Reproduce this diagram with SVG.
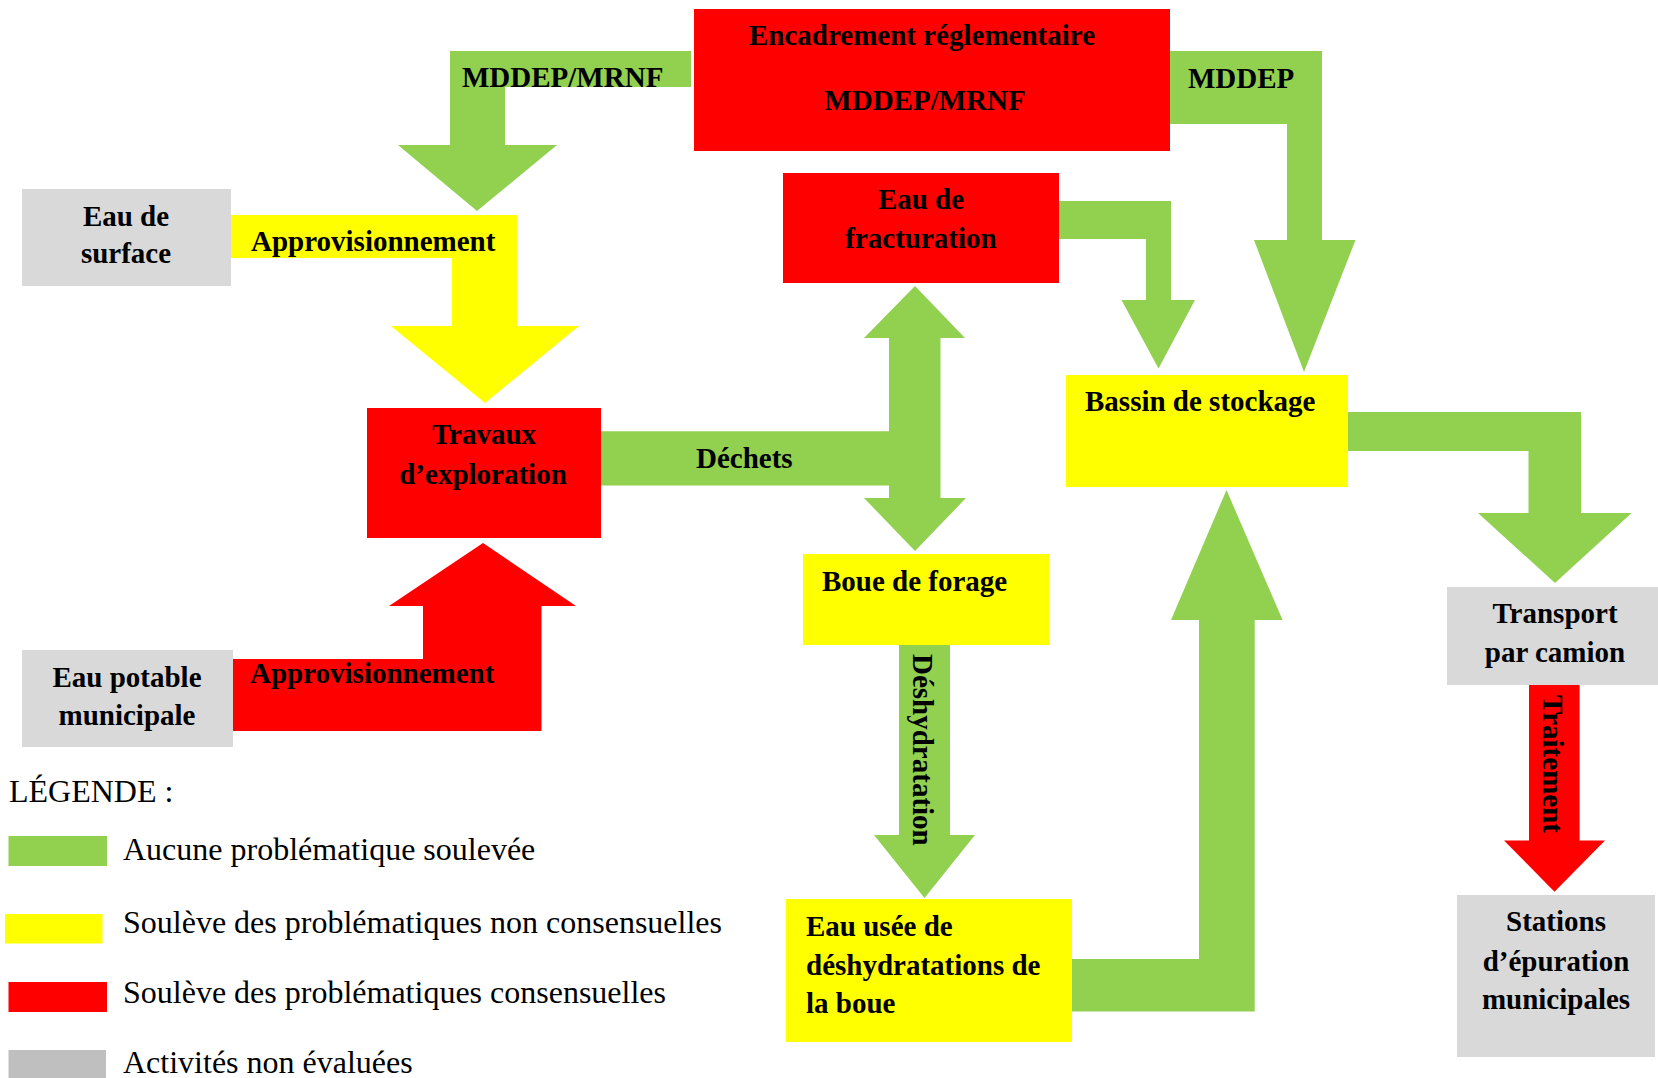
<svg xmlns="http://www.w3.org/2000/svg" width="1658" height="1078" viewBox="0 0 1658 1078">
<style>
.g{fill:#92D050}
.y{fill:#FFFF00}
.r{fill:#FF0000}
.k{fill:#D9D9D9}
.t{font-family:"Liberation Serif","Times New Roman",serif;font-weight:bold;font-size:29px;fill:#000}
.c{text-anchor:middle}
.l{font-family:"Liberation Serif","Times New Roman",serif;font-size:32px;fill:#000}
</style>
<rect width="1658" height="1078" fill="#fff"/>
<g id="connectors">
<path class="g" d="M691,51 H450 V145 H398 L477,211 L557,145 H505 V87 H691 Z"/>
<path class="g" d="M1168,51 H1322 V240 H1355.5 L1304,372 L1254,240 H1287 V124 H1168 Z"/>
<path class="g" d="M1058,201 H1171 V300 H1195 L1158.5,368.5 L1121.5,300 H1146 V239 H1058 Z"/>
<path class="y" d="M231,215 H517 V326 H579 L485,403 L391,326 H452 V258 H231 Z"/>
<path class="r" d="M231,659 H423 V606 H389 L483,543 L576,606 H541.5 V731 H231 Z"/>
<path class="g" d="M915,286 L965,338 H940.5 V498 H966 L915,551 L864,498 H889 V485.4 H601 V431.3 H889 V338 H864 Z"/>
<path class="g" d="M1348,412 H1581 V513 H1631.6 L1555,583 L1478,513 H1528.5 V451 H1348 Z"/>
<path class="g" d="M1072,959 H1199 V620 H1171 L1226.5,490 L1282.6,620 H1254.7 V1011.5 H1072 Z"/>
<path class="g" d="M899,645 H950 V835 H975 L924.5,898 L874,835 H899 Z"/>
<path class="r" d="M1529,684.7 H1579.6 V840.5 H1605 L1554.5,891.7 L1504,840.5 H1529 Z"/>
<text class="t" x="462" y="87">MDDEP/MRNF</text>
<text class="t" x="1188" y="88">MDDEP</text>
<text class="t" x="251" y="251">Approvisionnement</text>
<text class="t" x="250" y="683">Approvisionnement</text>
<text class="t" x="696" y="468">Déchets</text>
<text class="t" transform="translate(913,654) rotate(90)">Déshydratation</text>
<text class="t" transform="translate(1543,695) rotate(90)">Traitement</text>
</g>
<g id="encadrement">
<rect class="r" x="694" y="9" width="476" height="142"/>
<text class="t c" x="922" y="45">Encadrement réglementaire</text>
<text class="t c" x="925" y="110">MDDEP/MRNF</text>
</g>
<g id="eau-surface">
<rect class="k" x="22" y="189" width="209" height="97"/>
<text class="t c" x="126" y="226">Eau de</text>
<text class="t c" x="126" y="263">surface</text>
</g>
<g id="fracturation">
<rect class="r" x="783" y="173" width="276" height="110"/>
<text class="t c" x="921" y="209">Eau de</text>
<text class="t c" x="921" y="248">fracturation</text>
</g>
<g id="travaux">
<rect class="r" x="367" y="408" width="234" height="130"/>
<text class="t c" x="484" y="444">Travaux</text>
<text class="t c" x="483" y="484">d’exploration</text>
</g>
<g id="eau-potable">
<rect class="k" x="22" y="650" width="211" height="97"/>
<text class="t c" x="127" y="687">Eau potable</text>
<text class="t c" x="127" y="725">municipale</text>
</g>
<g id="bassin">
<rect class="y" x="1066" y="375" width="282" height="112"/>
<text class="t" x="1085" y="411">Bassin de stockage</text>
</g>
<g id="boue">
<rect class="y" x="803" y="554" width="246" height="91"/>
<text class="t" x="822" y="591">Boue de forage</text>
</g>
<g id="eau-usee">
<rect class="y" x="786" y="899" width="286" height="143"/>
<text class="t" x="806" y="936">Eau usée de</text>
<text class="t" x="806" y="975">déshydratations de</text>
<text class="t" x="806" y="1013">la boue</text>
</g>
<g id="transport">
<rect class="k" x="1447" y="587" width="211" height="98"/>
<text class="t c" x="1555" y="623">Transport</text>
<text class="t c" x="1555" y="662">par camion</text>
</g>
<g id="stations">
<rect class="k" x="1457" y="895" width="198" height="162"/>
<text class="t c" x="1556" y="931">Stations</text>
<text class="t c" x="1556" y="971">d’épuration</text>
<text class="t c" x="1556" y="1009">municipales</text>
</g>
<g id="legende">
<text class="l" x="9" y="802">LÉGENDE :</text>
<rect class="g" x="8.5" y="836" width="98.5" height="30"/>
<text class="l" x="123" y="860">Aucune problématique soulevée</text>
<rect class="y" x="5" y="914" width="97.5" height="29.5"/>
<text class="l" x="123" y="933">Soulève des problématiques non consensuelles</text>
<rect class="r" x="8.5" y="982" width="98.5" height="30"/>
<text class="l" x="123" y="1003">Soulève des problématiques consensuelles</text>
<rect x="8.5" y="1050" width="97.5" height="28" fill="#BFBFBF"/>
<text class="l" x="123" y="1073">Activités non évaluées</text>
</g>
</svg>
